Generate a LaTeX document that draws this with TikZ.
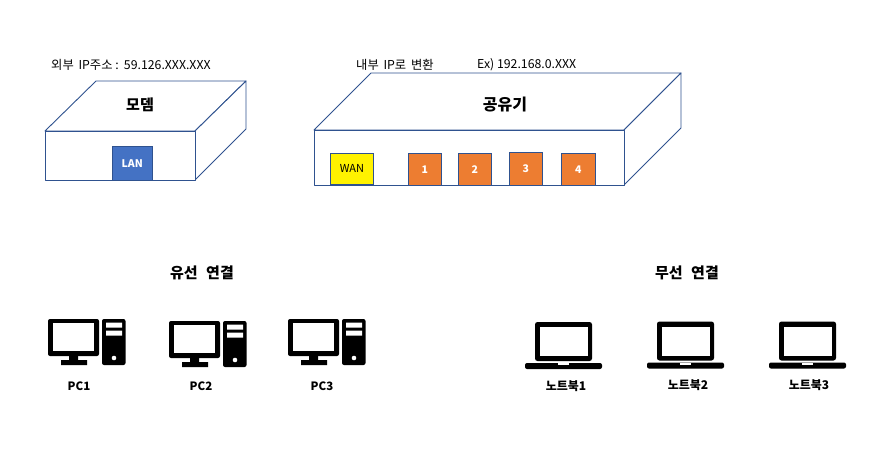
\documentclass[tikz,border=0pt]{standalone}
\usepackage{fontspec}
\setmainfont{Noto Sans CJK KR}
\definecolor{edge}{HTML}{2F528F}
\definecolor{lanblue}{HTML}{4472C4}
\definecolor{portorange}{HTML}{ED7D31}
\tikzset{
  x=1pt,y=-1pt,
  boxline/.style={draw=edge,line width=0.9pt,fill=white,line join=round},
  port/.style={draw=edge,line width=0.9pt,anchor=north west,inner sep=0pt,font=\fontsize{10.5}{12}\selectfont\bfseries,text=white},
  orangeport/.style={port,fill=portorange,minimum width=32.5pt,minimum height=32pt},
  lbl/.style={inner sep=0pt,font=\fontsize{12.3}{14}\selectfont},
  boldlbl/.style={inner sep=0pt,font=\fontsize{11.5}{13}\selectfont\bfseries},
  boldkr/.style={inner sep=0pt,font=\fontsize{12}{14}\selectfont\bfseries},
  title/.style={inner sep=0pt,font=\fontsize{15}{17}\selectfont\bfseries},
  heading/.style={inner sep=0pt,font=\fontsize{15}{17}\selectfont\bfseries},
  pcicon/.pic={
    \fill[black,rounded corners=2pt] (48,319) rectangle (99,356);
    \fill[white] (53,323) rectangle (94,351);
    \fill[black] (69,355) rectangle (78,361) (61,360) rectangle (87,365);
    \fill[black,rounded corners=2pt] (102,319) rectangle (125.5,365);
    \fill[white] (106,322.5) rectangle (122,327.5) (106,330.5) rectangle (122,335.5);
    \fill[white] (114,358) circle (2.3);
  },
  laptopicon/.pic={
    \fill[black,rounded corners=2.5pt] (535,322) -- (592,322) -- (592,361) -- (535,361) -- cycle;
    \fill[white] (540,327) rectangle (588,356);
    \fill[black,rounded corners=2pt] (525,363) -- (602,363) -- (602,369) -- (525,369) -- cycle;
    \fill[white] (558,363) rectangle (569,365);
  },
}
\begin{document}
\begin{tikzpicture}
\useasboundingbox (0,0) rectangle (887,461);
% modem
\draw[boxline] (45,131) -- (96,81) -- (246,81) -- (195,131) -- cycle;
\draw[boxline] (246,81) -- (246,129) -- (195,180) -- (195,131) -- cycle;
\draw[boxline] (45,131) rectangle (195,180);
\node[port,fill=lanblue,minimum width=39.5pt,minimum height=34pt] (lan) at (112,146) {LAN};
% router
\draw[boxline] (314,130) -- (371,73) -- (681,73) -- (624,130) -- cycle;
\draw[boxline] (681,73) -- (681,128) -- (624,185) -- (624,130) -- cycle;
\draw[boxline] (314,130) rectangle (624,185);
\node[port,fill=yellow,text=black,minimum width=43pt,minimum height=31pt,font=\fontsize{11}{13}\selectfont] (wan) at (330,153) {WAN};
\node[orangeport] (p1) at (408,153) {1};
\node[orangeport] (p2) at (458,153) {2};
\node[orangeport,minimum height=33pt] (p3) at (509,152) {3};
\node[orangeport,minimum width=33.5pt] (p4) at (561,153) {4};
% labels
\node[lbl,anchor=west] (ext) at (51,65) {외부\hspace{2pt} IP주소 :\hspace{1.5pt} 59.126.XXX.XXX};
\node[lbl,anchor=west] (int) at (356,65) {내부\hspace{2pt} IP로\hspace{2pt} 변환};
\node[lbl,anchor=west] (ex) at (477,65) {Ex) 192.168.0.XXX};
\node[title] (modem) at (140,105) {모뎀};
\node[title,font=\fontsize{16}{18}\selectfont\bfseries] (router) at (505,105) {공유기};
\node[heading] (wired) at (202,273) {유선\hspace{5pt} 연결};
\node[heading] (wireless) at (687,273) {무선\hspace{5pt} 연결};
% icons
\pic at (0,0) {pcicon};
\pic at (121,2) {pcicon};
\pic at (240,0) {pcicon};
\pic at (0,0) {laptopicon};
\pic at (122,-0.5) {laptopicon};
\pic at (244,-0.5) {laptopicon};
\node[boldlbl] (pc1) at (79,386) {PC1};
\node[boldlbl] (pc2) at (201,386) {PC2};
\node[boldlbl] (pc3) at (322,386) {PC3};
\node[boldkr] (nb1) at (566,386) {노트북1};
\node[boldkr] (nb2) at (688,385) {노트북2};
\node[boldkr] (nb3) at (809,385) {노트북3};
\end{tikzpicture}
\end{document}
